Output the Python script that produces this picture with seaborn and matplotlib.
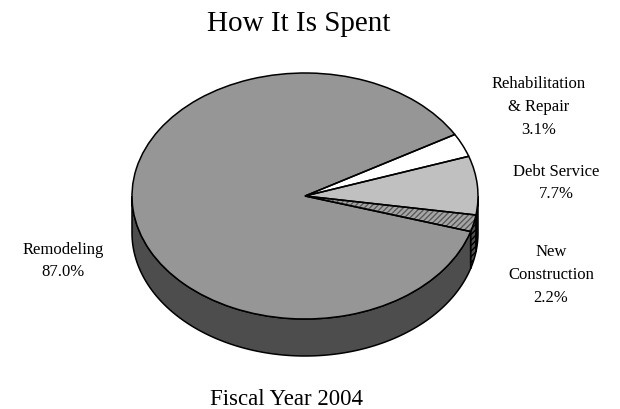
import numpy as np
import matplotlib
matplotlib.use("Agg")
import matplotlib.pyplot as plt
from matplotlib.patches import Polygon
import seaborn as sns

# Spending shares, fiscal year 2004 (percent), in clockwise order
categories = ["Rehabilitation\n& Repair", "Debt Service", "New\nConstruction", "Remodeling"]
shares = [3.1, 7.7, 2.2, 87.0]

top_colors = ["#ffffff", "#c0c0c0", "#a6a6a6", "#969696"]
side_colors = ["#8a8a8a", "#202020", "#505050", "#4d4d4d"]

sns.set_theme(style="white")
plt.rcParams["font.family"] = ["Liberation Serif", "DejaVu Serif"]
plt.rcParams["text.color"] = "black"

W, H = 620, 409
fig = plt.figure(figsize=(W / 100, H / 100), dpi=100)
ax = fig.add_axes([0, 0, 1, 1])

# pie geometry in pixels: centre, horizontal / vertical semi-axes, wall depth
cx, cy, a, b, depth_px = 305, 196, 173, 123, 37
depth = depth_px / b

start = 30.0

# visible front wall of each slice
edges = start - 360.0 * np.concatenate([[0], np.cumsum(shares)]) / sum(shares)
for i in range(len(shares)):
    hi, lo = edges[i], edges[i + 1]
    for k in (-1, 0, 1):
        s, e = max(lo, -180 + 360 * k), min(hi, 360 * k)
        if e - s <= 0:
            continue
        t = np.radians(np.linspace(s, e, 120))
        top = np.column_stack([np.cos(t), np.sin(t)])
        bot = np.column_stack([np.cos(t), np.sin(t) - depth])[::-1]
        poly = Polygon(np.vstack([top, bot]), closed=True, facecolor=side_colors[i],
                       edgecolor="black", linewidth=1.1, zorder=1)
        if i == 2:
            poly.set_hatch("//////")
        ax.add_patch(poly)

# top face
wedges, _ = ax.pie(shares, colors=top_colors, startangle=start, counterclock=False,
                   wedgeprops=dict(edgecolor="none", linewidth=0), frame=True)
for w in wedges:
    w.set_zorder(2)
wedges[2].set_hatch("//////")
wedges[2].set_edgecolor("#5a5a5a")
outline, _ = ax.pie(shares, colors=["none"] * 4, startangle=start, counterclock=False,
                    wedgeprops=dict(edgecolor="black", linewidth=1.1, fill=False), frame=True)
for w in outline:
    w.set_zorder(3)

ax.set_aspect("auto")
ax.set_xlim(-cx / a, (W - cx) / a)
ax.set_ylim(-(H - cy) / b, cy / b)
ax.axis("off")

# labels
label_pos = [(539, 107), (556, 183), (551, 275), (63, 261)]
for name, val, (px, py) in zip(categories, shares, label_pos):
    fig.text(px / W, 1 - py / H, f"{name}\n{val:.1f}%", ha="center", va="center",
             fontsize=12, linespacing=1.55, color="black")

fig.text(299 / W, 1 - 31 / H, "How It Is Spent", ha="center", va="baseline",
         fontsize=21, color="black")
fig.text(286 / W, 1 - 405 / H, "Fiscal Year 2004", ha="center", va="baseline",
         fontsize=16.5, color="black")

fig.savefig("out.png", dpi=100, facecolor="white")
